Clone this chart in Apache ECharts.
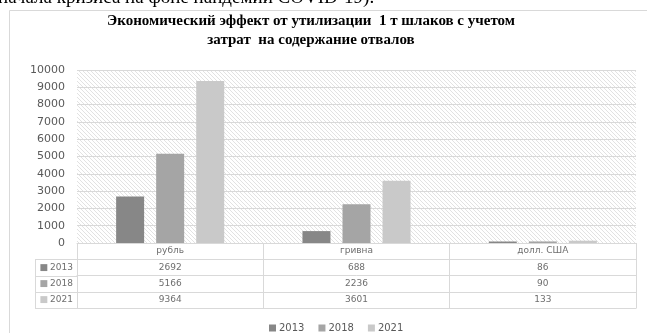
<!DOCTYPE html>
<html><head><meta charset="utf-8">
<script src="https://cdn.jsdelivr.net/npm/echarts@6/dist/echarts.min.js"></script>
<style>html,body{margin:0;padding:0;background:#fff}#c{width:647px;height:333px}</style>
</head><body><div id="c"></div><script>
// ---- data ----
const categories = ['рубль', 'гривна', 'долл. США'];
const years = ['2013', '2018', '2021'];
const values2013 = [2692, 688, 86];
const values2018 = [5166, 2236, 90];
const values2021 = [9364, 3601, 133];
const seriesValues = [values2013, values2018, values2021];
const titleLines = ['Экономический эффект от утилизации  1 т шлаков с учетом', 'затрат  на содержание отвалов'];
const docText = 'начала кризиса на фоне пандемии COVID-19).';

// ---- styles / layout ----
const colors = ['#878787', '#a5a5a5', '#c9c9c9'];
const lineColor = '#d9d9d9';
const textColor = '#595959';
const tableText = '#6e6e6e';
const W = 647, H = 333;
const GRID = { left: 77, right: 11, top: 70, bottom: 90 };
const ROW = 16.3;
const KEY_LEFT = 35;
const plotBottom = H - GRID.bottom;

// hatch pattern
const tile = document.createElement('canvas');
tile.width = 4; tile.height = 4;
const g = tile.getContext('2d');
g.fillStyle = '#ffffff'; g.fillRect(0, 0, 4, 4);
g.fillStyle = '#e2e2e2';
for (let i = 0; i < 4; i++) g.fillRect(i, i, 1, 1);

const chart = echarts.init(document.getElementById('c'), null, { renderer: 'canvas' });

const baseX = {
  type: 'category', data: categories, gridIndex: 0, position: 'bottom',
  axisLine: { show: true, lineStyle: { color: lineColor, width: 1 } },
  axisTick: { show: false },
  splitLine: { show: false },
  axisLabel: { show: false }
};

const xAxes = [];
xAxes.push(Object.assign({}, baseX, {
  offset: 0,
  axisTick: { show: true, interval: 0, length: ROW * 4, lineStyle: { color: lineColor } },
  axisLabel: { show: true, interval: 0, margin: ROW / 2, verticalAlign: 'middle',
    fontFamily: 'DejaVu Sans', fontSize: 9, color: tableText }
}));
years.forEach((y, k) => {
  xAxes.push(Object.assign({}, baseX, {
    offset: ROW * (k + 1),
    axisLabel: { show: true, interval: 0, margin: ROW / 2, verticalAlign: 'middle',
      fontFamily: 'DejaVu Sans', fontSize: 9, color: tableText,
      formatter: (v, idx) => String(seriesValues[k][idx]) },
    name: '{k|■}{t|' + y + '}',
    nameLocation: 'start',
    nameGap: 4,
    nameTextStyle: {
      align: 'right', verticalAlign: 'top', lineHeight: ROW,
      rich: {
        k: { color: colors[k], fontFamily: 'DejaVu Sans', fontSize: 9, lineHeight: ROW, padding: [0, 2, 0, 0] },
        t: { color: tableText, fontFamily: 'DejaVu Sans', fontSize: 9, lineHeight: ROW }
      }
    }
  }));
});
xAxes.push(Object.assign({}, baseX, { offset: ROW * 4 }));

const graphics = [
  { type: 'rect', z: -10, silent: true,
    shape: { x: 9.5, y: 10.5, width: 700, height: 400 },
    style: { fill: 'none', stroke: lineColor, lineWidth: 1 } },
  { type: 'text', x: -2, y: -11, silent: true,
    style: { text: docText, font: '19px "Liberation Serif"', fill: '#000' } },
  { type: 'text', x: 311, y: 12, silent: true,
    style: { text: titleLines.join('\n'), align: 'center',
      font: 'bold 15px "Liberation Serif"', lineHeight: 19, fill: '#000' } }
];
for (let k = 1; k <= 4; k++) {
  const yy = Math.round(plotBottom + ROW * k) + 0.5;
  graphics.push({ type: 'line', silent: true,
    shape: { x1: KEY_LEFT, y1: yy, x2: GRID.left, y2: yy },
    style: { stroke: lineColor, lineWidth: 1 } });
}
graphics.push({ type: 'line', silent: true,
  shape: { x1: KEY_LEFT + 0.5, y1: Math.round(plotBottom + ROW) + 0.5, x2: KEY_LEFT + 0.5, y2: Math.round(plotBottom + ROW * 4) + 0.5 },
  style: { stroke: lineColor, lineWidth: 1 } });

chart.setOption({
  animation: false,
  backgroundColor: '#fff',
  grid: {
    left: GRID.left, right: GRID.right, top: GRID.top, bottom: GRID.bottom,
    show: true, borderWidth: 0,
    backgroundColor: { image: tile, repeat: 'repeat' }
  },
  legend: {
    data: years, top: 318, left: 264,
    icon: 'rect', itemWidth: 7, itemHeight: 7, itemGap: 14,
    textStyle: { fontFamily: 'DejaVu Sans', fontSize: 10, color: textColor, padding: [0, 0, 0, -2] }
  },
  xAxis: xAxes,
  yAxis: {
    type: 'value', min: 0, max: 10000, interval: 1000,
    axisLine: { show: false }, axisTick: { show: false },
    splitLine: { show: true, lineStyle: { color: lineColor, width: 1 } },
    axisLabel: { margin: 12, fontFamily: 'DejaVu Sans', fontSize: 11, color: textColor,
      formatter: v => String(v) }
  },
  series: years.map((y, k) => ({
    name: y, type: 'bar', xAxisIndex: 0,
    data: seriesValues[k],
    barWidth: 28, barGap: '43%',
    itemStyle: { color: colors[k] }
  })),
  graphic: graphics
});
</script></body></html>
